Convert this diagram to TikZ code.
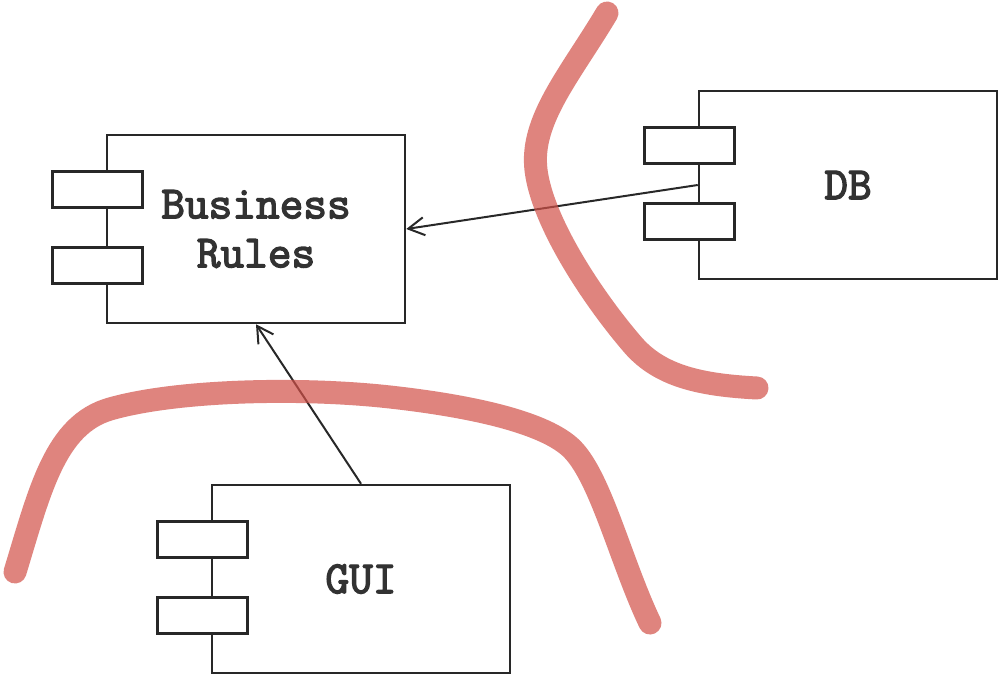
\documentclass[tikz,border=0pt]{standalone}
\usepackage{fontspec}
\newfontfamily\codefont{Latin Modern Mono}[FakeBold=3]
\usetikzlibrary{arrows.meta,calc}
\definecolor{redline}{RGB}{210,80,72}
\definecolor{ink}{RGB}{40,40,40}
\definecolor{txt}{RGB}{50,50,50}
\begin{document}
\begin{tikzpicture}[x=1pt,y=-1pt,
  comp/.style={draw=ink,line width=2.5pt,fill=white,minimum width=298pt,minimum height=188pt,inner sep=0pt,
    font=\codefont\fontsize{46}{49}\selectfont,text=txt,align=center},
  tabbox/.style={draw=ink,line width=3pt,fill=white,minimum width=90pt,minimum height=36pt,inner sep=0pt},
  dep/.style={draw=ink,line width=2pt,-{Straight Barb[length=16pt,width=18pt,line width=2pt]}},
  zone/.style={draw=redline,draw opacity=0.7,line width=23pt,line cap=round,line join=round}]
\useasboundingbox[fill=white] (0,0) rectangle (1000,678);

% components
\node[comp] (br) at (256,229) {Business\\Rules};
\node[comp] (db) at (848,185) {DB};
\node[comp] (gui) at (361,579) {GUI};

% tabs
\foreach \c in {br,db,gui}{
  \node[tabbox] (\c-t1) at ($(\c.north west)+(-8.5,56)$) {};
  \node[tabbox] (\c-t2) at ($(\c.north west)+(-8.5,132)$) {};
}

% dependencies
\draw[dep] (db.west) -- (br.east);
\draw[dep] (gui.north) -- (br.south);

% boundary strokes
\draw[zone] (607,13) .. controls (570,75) and (530,120) .. (536,170)
  .. controls (542,220) and (590,295) .. (633,345)
  .. controls (660,376) and (700,385) .. (757,388);
\draw[zone] (15,572) .. controls (40,490) and (55,425) .. (110,409)
  .. controls (176,390) and (300,387) .. (390,397)
  .. controls (462,405) and (540,420) .. (570,447)
  .. controls (600,474) and (620,560) .. (650,623);
\end{tikzpicture}
\end{document}
